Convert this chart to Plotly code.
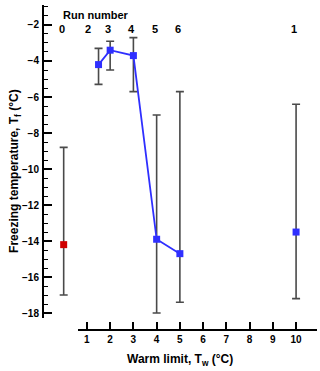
import plotly.graph_objects as go

# Warm limit (x), freezing temperature (y) and its spread for each run
run_labels = ['0', '2', '3', '4', '5', '6', '1']
warm_limit = [0, 1.5, 2, 3, 4, 5, 10]
t_freeze = [-14.2, -4.2, -3.4, -3.7, -13.9, -14.7, -13.5]
t_upper = [-8.8, -3.3, -2.9, -2.7, -7.0, -5.7, -6.4]
t_lower = [-17.0, -5.3, -4.5, -5.7, -18.0, -17.4, -17.2]

x_ticks = [1, 2, 3, 4, 5, 6, 7, 8, 9, 10]
y_ticks = [-2, -4, -6, -8, -10, -12, -14, -16, -18]

BLUE = '#2f2fff'
RED = '#d00000'
BAR = '#4a4a4a'
FONT = 'Liberation Sans, Arial, sans-serif'

err_up = [u - y for u, y in zip(t_upper, t_freeze)]
err_dn = [y - l for y, l in zip(t_freeze, t_lower)]


def errs(idx):
    return dict(type='data', symmetric=False,
                array=[err_up[i] for i in idx], arrayminus=[err_dn[i] for i in idx],
                color=BAR, thickness=1.6, width=4)


fig = go.Figure()

# run 0 (red)
fig.add_trace(go.Scatter(x=[warm_limit[0]], y=[t_freeze[0]], mode='markers',
                         marker=dict(symbol='square', size=7, color=RED),
                         error_y=errs([0]), showlegend=False))
# runs 2-6 connected
idx = [1, 2, 3, 4, 5]
fig.add_trace(go.Scatter(x=[warm_limit[i] for i in idx], y=[t_freeze[i] for i in idx],
                         mode='lines+markers', line=dict(color=BLUE, width=1.8),
                         marker=dict(symbol='square', size=7, color=BLUE),
                         error_y=errs(idx), showlegend=False))
# run 1 alone
fig.add_trace(go.Scatter(x=[warm_limit[6]], y=[t_freeze[6]], mode='markers',
                         marker=dict(symbol='square', size=7, color=BLUE),
                         error_y=errs([6]), showlegend=False))
# empty trace to carry the visible (shorter) axes
fig.add_trace(go.Scatter(x=[], y=[], xaxis='x2', yaxis='y2', showlegend=False))

# run number labels along the top
for lab, xv in zip(run_labels, warm_limit):
    fig.add_annotation(x=xv, y=0.951, xref='x', yref='paper', text=lab, showarrow=False,
                       xshift=-11 if lab == '2' else -2,
                       font=dict(family=FONT, size=11, color='black', weight='bold'))
fig.add_annotation(x=-0.1, y=0.993, xref='x', yref='paper', text='Run number',
                   showarrow=False, xanchor='left',
                   font=dict(family=FONT, size=11, color='black', weight='bold'))

fig.add_annotation(x=-0.138, y=0.49, xref='paper', yref='paper',
                   text='Freezing temperature, T<sub>f</sub> (°C)',
                   textangle=-90, showarrow=False,
                   font=dict(family=FONT, size=12, color='black', weight='bold'))
fig.add_annotation(x=0.5, y=-0.092, xref='paper', yref='paper', yanchor='middle',
                   text='Warm limit, T<sub>w</sub> (°C)', showarrow=False,
                   font=dict(family=FONT, size=12, color='black', weight='bold'))

tick_font = dict(family=FONT, size=10, color='black', weight='bold')

fig.update_layout(
    width=320, height=371,
    margin=dict(l=43, r=3, t=5, b=41, autoexpand=False),
    plot_bgcolor='rgba(0,0,0,0)', paper_bgcolor='white',
    xaxis=dict(range=[-0.89, 10.9], visible=False),
    yaxis=dict(range=[-18.94, -0.89], visible=False),
    xaxis2=dict(range=[0.62, 10.9], domain=[0.128, 1], anchor='free',
                position=0, showline=True, linecolor='black', linewidth=2, automargin=False,
                tickvals=x_ticks, ticks='inside', ticklen=7, tickwidth=2, tickcolor='black',
                showgrid=False, zeroline=False, tickfont=tick_font),
    yaxis2=dict(range=[-18.3, -0.89], domain=[0.0355, 1], anchor='free',
                position=0, showline=True, linecolor='black', linewidth=2, automargin=False,
                tickvals=y_ticks, ticks='inside', ticklen=8, tickwidth=2, tickcolor='black',
                ticklabelstandoff=1,
                minor=dict(dtick=0.5, ticks='inside', ticklen=4, tickwidth=1, tickcolor='black'),
                showgrid=False, zeroline=False, tickfont=tick_font),
)

fig.write_html("out.html", config={'displayModeBar': False},
               post_script="document.body.style.margin='0';")
